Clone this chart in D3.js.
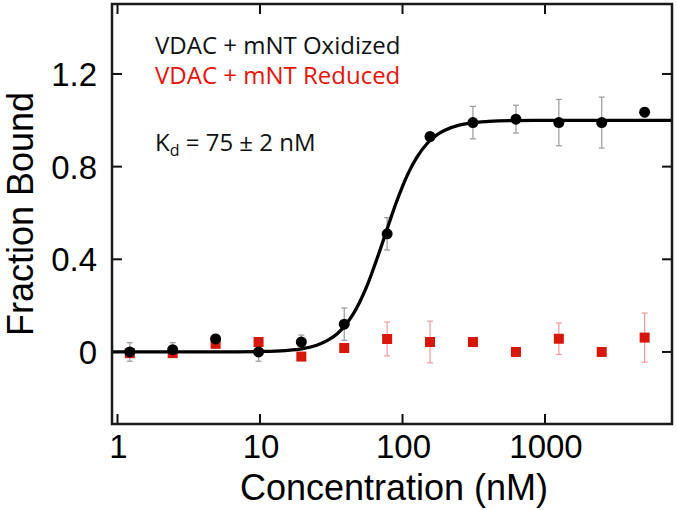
<!DOCTYPE html>
<html>
<head>
<meta charset="utf-8">
<script src="https://cdn.jsdelivr.net/npm/d3@7"></script>
<style>
  body { margin: 0; background: #fff; }
  svg { display: block; }
  .tick-label { font-family: "Liberation Sans", Arial, sans-serif; font-size: 33px; fill: #000; }
  .axis-title { font-family: "Liberation Sans", Arial, sans-serif; font-size: 36px; fill: #000; }
  .note { font-family: "Open Sans", sans-serif; font-size: 24px; }
</style>
</head>
<body>
<script>
// concentrations (nM), 2-fold dilution series
var conc = [1.22, 2.44, 4.88, 9.77, 19.5, 39, 78, 156, 312, 625, 1250, 2500, 5000];

// oxidized (black circles) and error
var oxValues = [0.0, 0.01, 0.056, 0.0, 0.043, 0.12, 0.51, 0.93, 0.99, 1.005, 0.99, 0.99, 1.035];
var oxErrors = [0.04, 0.03, 0.02, 0.04, 0.03, 0.07, 0.07, 0.015, 0.07, 0.06, 0.10, 0.11, 0.02];

// reduced (red squares) and error (0 = no bar drawn)
var redValues = [-0.005, -0.005, 0.035, 0.043, -0.02, 0.017, 0.056, 0.043, 0.043, 0.0, 0.057, 0.0, 0.062];
var redErrors = [0, 0, 0, 0, 0, 0, 0.073, 0.09, 0, 0, 0.068, 0, 0.106];

// fitted curve
var fitConc = [0.92, 5, 10, 15, 20, 25, 30, 35, 40, 45, 50, 55, 60, 65, 70, 75, 80, 90, 100, 110, 125, 150, 175, 200, 250, 300, 400, 600, 1000, 7800];
var fitValues = [0, 0, 0.002, 0.006, 0.014, 0.029, 0.051, 0.08, 0.118, 0.163, 0.215, 0.27, 0.329, 0.388, 0.445, 0.5, 0.551, 0.642, 0.715, 0.773, 0.837, 0.902, 0.938, 0.958, 0.979, 0.988, 0.995, 0.999, 1.0, 1.0];

var xTicks = [1, 10, 100, 1000];
var yTicks = [0, 0.4, 0.8, 1.2];

var W = 677, H = 510;
var plot = {left: 112, right: 672, top: 4, bottom: 424};

var svg = d3.select("body").append("svg")
    .attr("width", W)
    .attr("height", H);

var x = d3.scaleLog()
    .domain([0.915, 7780])
    .range([plot.left, plot.right]);

var y = d3.scaleLinear()
    .domain([-0.311, 1.502])
    .range([plot.bottom, plot.top]);

// ticks, inward on all four sides
var tickLen = 10;
xTicks.forEach(function(t) {
    svg.append("line").attr("x1", x(t)).attr("x2", x(t))
        .attr("y1", plot.bottom).attr("y2", plot.bottom - tickLen)
        .attr("stroke", "#111").attr("stroke-width", 2);
    svg.append("line").attr("x1", x(t)).attr("x2", x(t))
        .attr("y1", plot.top).attr("y2", plot.top + tickLen)
        .attr("stroke", "#111").attr("stroke-width", 2);
    svg.append("text").attr("class", "tick-label")
        .attr("x", x(t) + 1).attr("y", 458)
        .attr("text-anchor", "middle")
        .text(t);
});
yTicks.forEach(function(t) {
    svg.append("line").attr("x1", plot.left).attr("x2", plot.left + tickLen)
        .attr("y1", y(t)).attr("y2", y(t))
        .attr("stroke", "#111").attr("stroke-width", 2);
    svg.append("line").attr("x1", plot.right).attr("x2", plot.right - tickLen)
        .attr("y1", y(t)).attr("y2", y(t))
        .attr("stroke", "#111").attr("stroke-width", 2);
    svg.append("text").attr("class", "tick-label")
        .attr("x", 97).attr("y", y(t))
        .attr("dy", "0.36em")
        .attr("text-anchor", "end")
        .text(t === 0 ? "0" : d3.format(".1f")(t));
});

// error bars
function errBars(vals, errs, color) {
    var g = svg.append("g").attr("stroke", color).attr("stroke-width", 1.2);
    conc.forEach(function(c, i) {
        if (!errs[i]) return;
        var cx = x(c), y0 = y(vals[i] - errs[i]), y1 = y(vals[i] + errs[i]);
        g.append("line").attr("x1", cx).attr("x2", cx).attr("y1", y0).attr("y2", y1);
        g.append("line").attr("x1", cx - 3).attr("x2", cx + 3).attr("y1", y0).attr("y2", y0);
        g.append("line").attr("x1", cx - 3).attr("x2", cx + 3).attr("y1", y1).attr("y2", y1);
    });
}
errBars(oxValues, oxErrors, "#9a9a9a");
errBars(redValues, redErrors, "#f09a9a");

// red squares
svg.append("g").selectAll("rect")
    .data(conc)
    .enter().append("rect")
    .attr("x", function(d) { return x(d) - 5; })
    .attr("y", function(d, i) { return y(redValues[i]) - 5; })
    .attr("width", 10)
    .attr("height", 10)
    .attr("fill", "#d7160c");

// fit curve
var line = d3.line()
    .x(function(d) { return x(d[0]); })
    .y(function(d) { return y(d[1]); })
    .curve(d3.curveMonotoneX);

svg.append("path")
    .datum(d3.zip(fitConc, fitValues))
    .attr("d", line)
    .attr("fill", "none")
    .attr("stroke", "#000")
    .attr("stroke-width", 3.3);

// black circles
svg.append("g").selectAll("circle")
    .data(conc)
    .enter().append("circle")
    .attr("cx", function(d) { return x(d); })
    .attr("cy", function(d, i) { return y(oxValues[i]); })
    .attr("r", 5.5)
    .attr("fill", "#000");

// frame
svg.append("rect")
    .attr("x", plot.left).attr("y", plot.top)
    .attr("width", plot.right - plot.left)
    .attr("height", plot.bottom - plot.top)
    .attr("fill", "none")
    .attr("stroke", "#1a1a1a")
    .attr("stroke-width", 2.5);

// annotations
svg.append("text").attr("class", "note")
    .attr("x", 155).attr("y", 54)
    .attr("fill", "#111")
    .text("VDAC + mNT Oxidized");
svg.append("text").attr("class", "note")
    .attr("x", 155).attr("y", 84)
    .attr("fill", "#e8120a")
    .text("VDAC + mNT Reduced");

var kd = svg.append("text").attr("class", "note")
    .attr("x", 155).attr("y", 151)
    .attr("fill", "#111");
kd.append("tspan").text("K");
kd.append("tspan").attr("dy", 5).attr("font-size", 16).text("d");
kd.append("tspan").attr("dy", -5).text(" = 75 \u00b1 2 nM");

// axis titles
svg.append("text").attr("class", "axis-title")
    .attr("x", (plot.left + plot.right) / 2 + 2).attr("y", 500)
    .attr("text-anchor", "middle")
    .text("Concentration (nM)");

svg.append("text").attr("class", "axis-title")
    .attr("transform", "translate(33,214) rotate(-90)")
    .attr("font-size", 34)
    .attr("text-anchor", "middle")
    .text("Fraction Bound");
</script>
</body>
</html>
